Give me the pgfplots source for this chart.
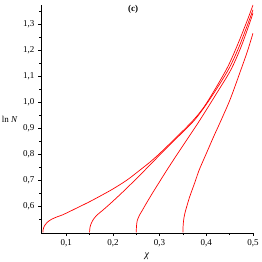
\documentclass[border=0pt]{standalone}
\usepackage{pgfplots}
\pgfplotsset{compat=1.18}
\usepackage{fontspec}
\setmainfont{Liberation Serif}
\pgfplotsset{mycurve/.style={color=red, line width=0.7pt, smooth, mark=none}}
\begin{document}
\begin{tikzpicture}
\path[use as bounding box] (0,0) rectangle (262pt,262pt);
\begin{axis}[
  at={(41pt,29pt)}, anchor=south west,
  scale only axis, width=212pt, height=228pt,
  xmin=0.046, xmax=0.5, ymin=0.498, ymax=1.373,
  axis x line*=bottom, axis y line*=left,
  axis line style={-, line width=0.7pt},
  xtick={0.1,0.2,0.3,0.4,0.5},
  minor xtick={0.15,0.25,0.35,0.45},
  ytick={0.6,0.7,0.8,0.9,1.0,1.1,1.2,1.3},
  minor ytick={0.55,0.65,0.75,0.85,0.95,1.05,1.15,1.25,1.35},
  tick align=outside,
  major tick length=3pt, minor tick length=2pt,
  tick style={black, line width=0.6pt},
  ticklabel style={font=\fontsize{9}{10}\selectfont},
  /pgf/number format/.cd, fixed, fixed zerofill, precision=1, use comma, assume math mode=true,
  /pgfplots/.cd,
  xlabel={\textit{χ}},
  ylabel={ln \textit{N}},
  every axis x label/.style={at={(axis description cs:0.5,0)}, anchor=center, yshift=-23pt, font=\fontsize{10}{12}\selectfont},
  every axis y label/.style={at={(axis description cs:0,0.5)}, anchor=east, xshift=-20pt, font=\fontsize{9}{11}\selectfont},
]
\addplot[mycurve] coordinates {
(0.050,0.500) (0.0505,0.510) (0.052,0.520) (0.055,0.530) (0.060,0.540) (0.068,0.550)
(0.079,0.559) (0.0914,0.567) (0.100,0.574) (0.125,0.596) (0.150,0.618) (0.175,0.642)
(0.200,0.667) (0.230,0.701) (0.259,0.741) (0.280,0.771) (0.300,0.803) (0.330,0.855)
(0.3727,0.932) (0.400,0.995) (0.4425,1.124) (0.465,1.212) (0.488,1.315) (0.500,1.373)
};
\addplot[mycurve] coordinates {
(0.150,0.500) (0.1503,0.510) (0.151,0.520) (0.1525,0.530) (0.155,0.540) (0.158,0.550)
(0.166,0.567) (0.180,0.588) (0.200,0.620) (0.225,0.662) (0.250,0.706) (0.2694,0.741)
(0.300,0.797) (0.330,0.851) (0.375,0.932) (0.410,1.018) (0.447,1.124) (0.470,1.212)
(0.492,1.315) (0.500,1.355)
};
\addplot[mycurve] coordinates {
(0.250,0.500) (0.2502,0.515) (0.2508,0.530) (0.252,0.545) (0.254,0.555) (0.257,0.567)
(0.263,0.585) (0.270,0.607) (0.285,0.652) (0.300,0.695) (0.314,0.735) (0.335,0.793)
(0.360,0.860) (0.3865,0.932) (0.420,1.028) (0.4525,1.124) (0.475,1.215) (0.495,1.315)
(0.500,1.343)
};
\addplot[mycurve] coordinates {
(0.350,0.500) (0.3502,0.520) (0.351,0.540) (0.3525,0.560) (0.355,0.580) (0.359,0.605)
(0.364,0.635) (0.370,0.665) (0.377,0.700) (0.385,0.741) (0.400,0.803) (0.415,0.865)
(0.432,0.932) (0.452,1.015) (0.474,1.124) (0.488,1.195) (0.500,1.265)
};
\node[font=\fontsize{9}{10}\selectfont\bfseries] at (rel axis cs:0.434,0.982) {(c)};
\end{axis}
\end{tikzpicture}
\end{document}
